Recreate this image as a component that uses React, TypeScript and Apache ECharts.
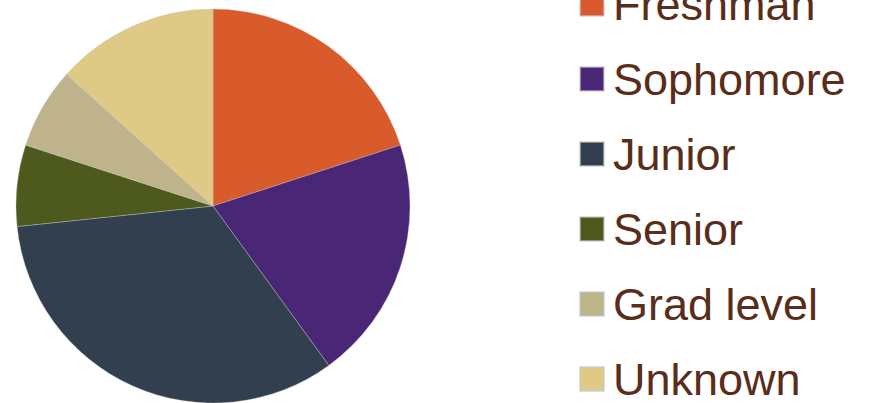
import React, { useEffect, useRef } from "react";
import * as echarts from "echarts";

const categories = ["Freshman", "Sophomore", "Junior", "Senior", "Grad level", "Unknown"];
const values = [3, 3, 5, 1, 1, 2];
const colors = ["#D95B2B", "#4A2676", "#323F4E", "#4E591E", "#BFB38B", "#DECA85"];

export default function App() {
  const ref = useRef<HTMLDivElement>(null);
  useEffect(() => {
    if (!ref.current) return;
    const chart = echarts.init(ref.current, undefined, { renderer: "svg" });
    chart.setOption({
      animation: false,
      backgroundColor: "#ffffff",
      legend: {
        orient: "vertical",
        left: 574,
        top: -26,
        height: 600,
        icon: "rect",
        itemWidth: 24,
        itemHeight: 24,
        itemGap: 25,
        selectedMode: false,
        data: categories,
        textStyle: {
          fontFamily: "Liberation Sans, Arial, sans-serif",
          fontSize: 45,
          lineHeight: 50,
          color: "#5A2D1A",
          padding: [0, 0, 0, 4],
        },
      },
      series: [
        {
          type: "pie",
          center: [213, 206],
          radius: 197,
          startAngle: 90,
          clockwise: true,
          label: { show: false },
          labelLine: { show: false },
          emphasis: { disabled: true },
          itemStyle: { borderColor: "rgba(200,200,200,0.6)", borderWidth: 0.6 },
          data: categories.map((name, i) => ({
            name,
            value: values[i],
            itemStyle: { color: colors[i] },
          })),
        },
      ],
    });
    return () => chart.dispose();
  }, []);
  return (
    <div
      ref={ref}
      style={{ position: "absolute", left: 0, top: 0, width: 874, height: 403 }}
    />
  );
}
